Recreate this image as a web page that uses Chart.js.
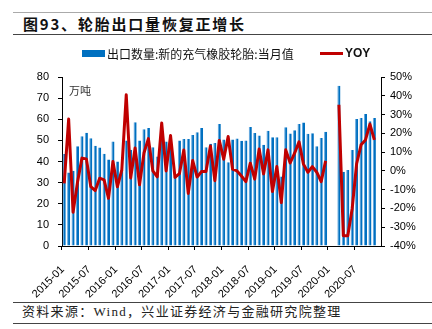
<!DOCTYPE html>
<html>
<head>
<meta charset="utf-8">
<script src="https://cdn.jsdelivr.net/npm/chart.js"></script>
<style>
  html, body { margin: 0; padding: 0; background: #fff; }
  body { width: 432px; height: 329px; position: relative; overflow: hidden; font-family: "Noto Sans CJK SC", sans-serif; }
  .rule { position: absolute; left: 13px; right: 0; height: 1px; background: #444; }
  #title { position: absolute; left: 23px; top: 16px; font-size: 15px; line-height: 15px; font-weight: bold; letter-spacing: 1.8px; color: #111; white-space: nowrap; }
  #source { position: absolute; left: 22px; top: 305px; font-size: 13px; line-height: 13px; letter-spacing: 1.3px; color: #222; white-space: nowrap; font-family: "Liberation Serif", "Noto Sans CJK SC", serif; }
  #wrap { position: absolute; left: 0; top: 40px; width: 432px; height: 260px; }
</style>
</head>
<body>
<div class="rule" style="top:12px; background:#aaa"></div>
<div id="title">图93、轮胎出口量恢复正增长</div>
<div class="rule" style="top:34px"></div>
<div id="wrap"><canvas id="canvas"></canvas></div>
<div class="rule" style="top:302px"></div>
<div id="source">资料来源：Wind，兴业证券经济与金融研究院整理</div>
<div class="rule" style="top:323px"></div>

<script>
// months 2015-01 .. 2020-12
const years = ['2015', '2016', '2017', '2018', '2019', '2020'];
const months = ['01', '02', '03', '04', '05', '06', '07', '08', '09', '10', '11', '12'];
const labels = [];
years.forEach(y => months.forEach(m => labels.push(y + '-' + m)));

// 出口数量:新的充气橡胶轮胎:当月值 (万吨)
const exportVolume = [
  43.5, 34.8, 35.6, 47.2, 52.0, 53.6, 51.0, 47.4, 46.6, 43.7, 41.0, 49.5,
  40.0, 36.0, 50.0, 45.6, 58.6, 50.0, 55.3, 55.8, 46.8, 42.4, 50.0, 49.5,
  52.5, 33.0, 50.0, 50.7, 50.7, 52.6, 53.9, 55.8, 46.8, 48.4, 48.8, 57.8,
  50.4, 39.7, 50.4, 50.9, 49.8, 49.9, 56.3, 53.5, 52.3, 47.9, 54.6, 51.5,
  51.5, 32.9, 56.2, 53.2, 54.8, 57.7, 58.5, 53.1, 53.4, 47.2, 51.1, 54.1,
  null, null, 75.9, 35.1, 36.0, 45.5, 60.1, 60.6, 62.5, 59.0, 60.6, null
];

// YOY (%)
const yoy = [
  -6.6, 27.6, -22.0, -6.0, 6.8, 6.4, -8.4, -10.5, -3.9, -4.8, -14.6, 5.0,
  -8.5, 0.5, 40.5, -3.8, 12.2, -7.4, 9.5, 17.2, 0.0, -3.2, 25.5, 0.0,
  18.8, -3.5, -1.5, 11.1, -12.0, 5.5, -3.3, -0.3, -0.3, 13.3, -5.2, 16.2,
  6.2, 18.3, 0.9, 0.0, -2.7, -5.7, 4.1, -4.4, 11.7, -1.6, 11.2, -11.0,
  2.3, -16.9, 11.2, 4.2, 9.4, 15.5, 3.6, -0.7, 2.3, -0.7, -5.7, 5.3,
  null, null, 35.2, -34.5, -34.5, -20.0, 3.8, 13.9, 16.5, 24.9, 16.5, null
];

const BLUE = '#0070c0';
const RED = '#c00000';

// legend row above the plot
const legendRow = {
  id: 'legendRow',
  afterDraw(chart) {
    const ctx = chart.ctx;
    const bars = chart.data.datasets[0];
    const line = chart.data.datasets[1];
    const y = 13;
    ctx.save();
    ctx.fillStyle = bars.backgroundColor;
    ctx.fillRect(82, y - 3, 23, 7);
    ctx.fillStyle = '#111';
    ctx.textBaseline = 'middle';
    ctx.font = '12px "Noto Sans CJK SC"';
    ctx.fillText(bars.label, 107, y + 1);
    ctx.strokeStyle = line.borderColor;
    ctx.lineWidth = 3;
    ctx.beginPath();
    ctx.moveTo(320, y + 0.5);
    ctx.lineTo(343, y + 0.5);
    ctx.stroke();
    ctx.font = 'bold 12px "Liberation Sans"';
    ctx.fillText(line.label, 345, y + 1);
    ctx.restore();
  }
};

// unit label inside the plot
const unitLabel = {
  id: 'unitLabel',
  afterDraw(chart) {
    const ctx = chart.ctx;
    const area = chart.chartArea;
    ctx.save();
    ctx.fillStyle = '#333';
    ctx.font = '11px "Noto Sans CJK SC"';
    ctx.textBaseline = 'alphabetic';
    ctx.fillText('万吨', area.left + 7, area.top + 18);
    ctx.restore();
  }
};

const tickFont = { family: 'Liberation Sans', size: 11 };

new Chart(document.getElementById('canvas'), {
  type: 'bar',
  data: {
    labels: labels,
    datasets: [
      {
        label: '出口数量:新的充气橡胶轮胎:当月值',
        data: exportVolume,
        yAxisID: 'y',
        backgroundColor: BLUE,
        borderColor: '#5ea6e0',
        borderWidth: { left: 1, right: 0, top: 0, bottom: 0 },
        categoryPercentage: 1,
        barPercentage: 0.7,
        order: 1
      },
      {
        type: 'line',
        label: 'YOY',
        data: yoy,
        yAxisID: 'y1',
        borderColor: RED,
        backgroundColor: RED,
        borderWidth: 3,
        borderJoinStyle: 'round',
        pointRadius: 0,
        tension: 0,
        spanGaps: false,
        order: 0
      }
    ]
  },
  options: {
    responsive: true,
    maintainAspectRatio: false,
    animation: false,
    layout: { padding: { top: 37, left: 0, right: 0, bottom: 0 } },
    plugins: {
      legend: { display: false },
      tooltip: { enabled: false }
    },
    scales: {
      x: {
        offset: true,
        grid: {
          offset: true,
          drawOnChartArea: false,
          tickLength: 4,
          tickColor: c => (c.index % 6 === 0 ? '#000' : 'rgba(0,0,0,0)')
        },
        border: { color: '#000' },
        ticks: {
          autoSkip: false,
          minRotation: 45,
          maxRotation: 45,
          labelOffset: -1.5,
          padding: 13,
          color: '#000',
          font: tickFont,
          callback(v, i) { return i % 6 === 0 ? this.getLabelForValue(v) : ''; }
        },
        afterFit(s) { s.height = 54; }
      },
      y: {
        position: 'left',
        min: 0,
        max: 80,
        grid: { drawOnChartArea: false, tickLength: 4, tickColor: '#000' },
        border: { color: '#000' },
        ticks: { stepSize: 10, padding: 9, color: '#000', font: tickFont },
        afterFit(s) { s.width = 62; }
      },
      y1: {
        position: 'right',
        min: -40,
        max: 50,
        grid: { drawOnChartArea: false, tickLength: 4, tickColor: '#000' },
        border: { color: '#000' },
        ticks: { stepSize: 10, padding: 5, color: '#000', font: tickFont, callback: v => v + '%' },
        afterFit(s) { s.width = 51; }
      }
    }
  },
  plugins: [legendRow, unitLabel]
});
</script>
</body>
</html>
